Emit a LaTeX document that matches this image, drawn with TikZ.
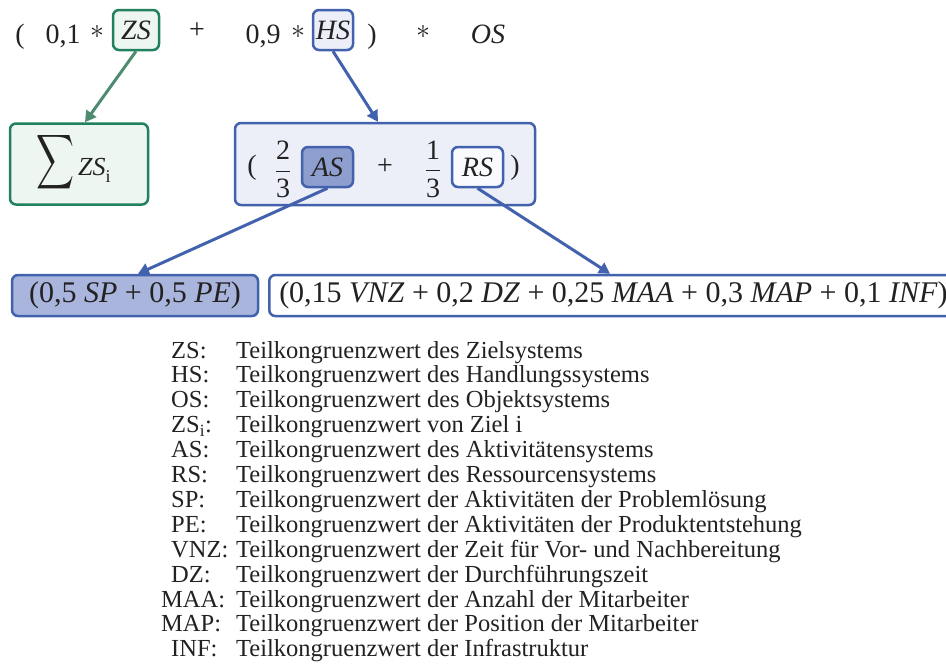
\RequirePackage{fix-cm}
\documentclass[tikz,border=0pt]{standalone}
\usepackage{amsmath}
\usepackage{fontspec}
\setmainfont{Liberation Serif}
\usetikzlibrary{arrows.meta}

\definecolor{ink}{HTML}{222222}
\definecolor{zsline}{HTML}{21805E}
\definecolor{zsarrow}{HTML}{4E8B70}
\definecolor{zsfill}{HTML}{EEF6F2}
\definecolor{hsline}{HTML}{4262AE}
\definecolor{hsfill}{HTML}{ECEEF8}
\definecolor{asfill}{HTML}{8E9ECF}
\definecolor{spfill}{HTML}{A9B5DC}

\newcommand\fsz[1]{\fontsize{#1}{#1}\selectfont}

\tikzset{
  txt/.style={inner sep=0pt, text=ink},
  frame/.style={rounded corners=6pt, line width=2.5pt, inner sep=0pt, text=ink},
  gframe/.style={frame, draw=zsline, fill=zsfill},
  bframe/.style={frame, draw=hsline, fill=hsfill},
  conn/.style={line width=3pt, -{Triangle[length=11pt,width=12pt]}},
  legab/.style={txt, anchor=base west, font=\fsz{24.5}},
  legtx/.style={txt, anchor=base west, font=\fsz{24.5}},
}

\begin{document}
\begin{tikzpicture}[x=1pt, y=-1pt]
\useasboundingbox (0,0) rectangle (946,664);
\clip (0,0) rectangle (946,664);

% top formula
\begin{scope}[every node/.append style={font=\fsz{28}}]
\node[txt, anchor=base] (lp) at (20,43) {(};
\node[txt, anchor=base] (c1) at (63,43) {0,1};
\node[txt] (m1) at (97,32) {$\ast$};
\node[gframe, minimum width=46pt, minimum height=40pt] (zs) at (136,30) {\itshape ZS};
\node[txt] (p1) at (197,31) {+};
\node[txt, anchor=base] (c9) at (263,43) {0,9};
\node[txt] (m2) at (298,32) {$\ast$};
\node[bframe, minimum width=40pt, minimum height=40pt] (hs) at (333,30) {\itshape HS};
\node[txt, anchor=base] (rp) at (372,43) {)};
\node[txt] (m3) at (423,32) {$\ast$};
\node[txt, anchor=base] (os) at (488,43) {\itshape OS};
\end{scope}

% sum over the goals
\node[gframe, minimum width=138pt, minimum height=81pt] (sum) at (79,164) {};
\node[txt] (sigma) at (56,162.5) {\resizebox*{38pt}{61pt}{$\displaystyle\sum$}};
\node[txt, anchor=base west] (zsi) at (78,175) {\fsz{26}\itshape ZS\raisebox{-7pt}{\fsz{18}\upshape i}};

% action system
\node[bframe, minimum width=300pt, minimum height=82pt] (hsg) at (385,164) {};
\begin{scope}[every node/.append style={font=\fsz{28}}]
\node[txt] (lp2) at (252,168) {(};
\node[txt] (f23) at (283,169) {$\dfrac{\mbox{2}}{\mbox{3}}$};
\node[bframe, fill=asfill, minimum width=51pt, minimum height=40pt] (as) at (327.5,167) {\itshape AS};
\node[txt] (p2) at (385,167) {+};
\node[txt] (f13) at (433,169) {$\dfrac{\mbox{1}}{\mbox{3}}$};
\node[bframe, fill=white!70!hsfill, minimum width=51pt, minimum height=40pt] (rs) at (477.5,167) {\itshape RS};
\node[txt] (rp2) at (515,168) {)};
\end{scope}

% activity and resource systems
\node[bframe, fill=spfill, minimum width=246pt, minimum height=41pt, font=\fsz{30}] (spe) at (135,295.5)
  {(0,5 \textit{SP} + 0,5 \textit{PE})};
\node[bframe, fill=white, anchor=west, minimum height=41pt, inner xsep=10pt, font=\fsz{30}] (res) at (268,295.5)
  {(0,15 \textit{VNZ} + 0,2 \textit{DZ} + 0,25 \textit{MAA} + 0,3 \textit{MAP} + 0,1 \textit{INF})};

% connectors
\draw[conn, zsarrow] (zs.south) -- ([xshift=6pt]sum.north);
\draw[conn, hsline] (hs.south) -- ([xshift=-7pt]hsg.north);
\draw[conn, hsline] (as.south) -- ([xshift=3pt]spe.north);
\draw[conn, hsline] (rs.south) -- (res.north -| 610,0);

% legend
\foreach \ab/\ax/\tx [count=\i from 0] in {
  ZS:/171/Teilkongruenzwert des Zielsystems,
  HS:/171/Teilkongruenzwert des Handlungssystems,
  OS:/171/Teilkongruenzwert des Objektsystems,
  {ZS\textsubscript{i}:}/171/Teilkongruenzwert von Ziel i,
  AS:/171/Teilkongruenzwert des Aktivitätensystems,
  RS:/171/Teilkongruenzwert des Ressourcensystems,
  SP:/171/Teilkongruenzwert der Aktivitäten der Problemlösung,
  PE:/171/Teilkongruenzwert der Aktivitäten der Produktentstehung,
  VNZ:/171/Teilkongruenzwert der Zeit für Vor- und Nachbereitung,
  DZ:/171/Teilkongruenzwert der Durchführungszeit,
  MAA:/161/Teilkongruenzwert der Anzahl der Mitarbeiter,
  MAP:/161/Teilkongruenzwert der Position der Mitarbeiter,
  INF:/171/Teilkongruenzwert der Infrastruktur}
{
  \node[legab] (ab\i) at (\ax,{358+24.9*\i}) {\ab};
  \node[legtx] (tx\i) at (236,{358+24.9*\i}) {\tx};
}
\end{tikzpicture}
\end{document}
